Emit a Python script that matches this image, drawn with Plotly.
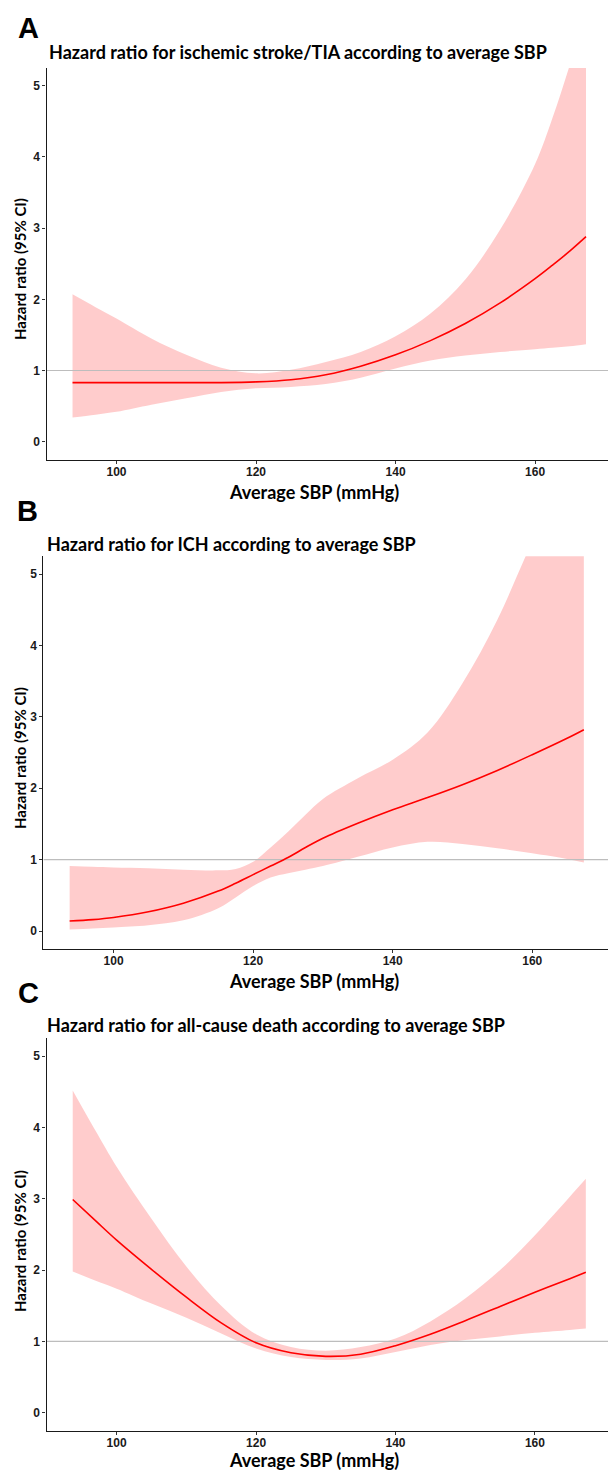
import plotly.graph_objects as go

W, H = 608, 1471

# ---------------- data ----------------
PANEL_LETTERS = ["A", "B", "C"]
PANEL_TITLES = [
    "Hazard ratio for ischemic stroke/TIA according to average SBP",
    "Hazard ratio for ICH according to average SBP",
    "Hazard ratio for all-cause death according to average SBP",
]
X_TITLE = "Average SBP (mmHg)"
Y_TITLE = "Hazard ratio (95% CI)"
X_TICKS = [100, 120, 140, 160]
Y_TICKS = [0, 1, 2, 3, 4, 5]
REF_HR = 1

# Panel A: ischemic stroke/TIA
sbp_a = [93.7, 97, 100, 105, 110, 115, 120, 125, 130, 135, 140, 145, 150, 155, 160, 162.5, 165, 167.3]
hr_a = [0.83, 0.83, 0.83, 0.83, 0.83, 0.83, 0.84, 0.87, 0.94, 1.06, 1.22, 1.42, 1.66, 1.95, 2.29, 2.48, 2.68, 2.88]
lo_a = [0.34, 0.38, 0.42, 0.52, 0.61, 0.70, 0.75, 0.77, 0.81, 0.90, 1.03, 1.14, 1.21, 1.26, 1.30, 1.32, 1.34, 1.37]
hi_a = [2.07, 1.89, 1.73, 1.45, 1.22, 1.04, 0.96, 1.01, 1.12, 1.26, 1.48, 1.80, 2.28, 2.98, 3.90, 4.55, 5.30, 6.05]

# Panel B: ICH
sbp_b = [93.7, 97, 100, 105, 110, 115, 117.5, 120, 122.5, 125, 127.5, 130, 135, 140, 145, 150, 155, 160, 165, 167.4]
hr_b = [0.14, 0.16, 0.19, 0.27, 0.39, 0.56, 0.67, 0.79, 0.91, 1.03, 1.17, 1.30, 1.51, 1.70, 1.87, 2.05, 2.25, 2.47, 2.70, 2.82]
lo_b = [0.02, 0.035, 0.05, 0.08, 0.15, 0.32, 0.47, 0.63, 0.75, 0.81, 0.86, 0.91, 1.04, 1.17, 1.25, 1.22, 1.16, 1.09, 1.01, 0.96]
hi_b = [0.91, 0.90, 0.89, 0.88, 0.86, 0.85, 0.87, 0.97, 1.17, 1.39, 1.63, 1.85, 2.14, 2.40, 2.78, 3.47, 4.36, 5.45, 6.40, 6.90]

# Panel C: all-cause death
sbp_c = [93.7, 97, 100, 105, 110, 115, 120, 125, 130, 135, 140, 145, 150, 155, 160, 165, 167.3]
hr_c = [2.99, 2.69, 2.42, 2.01, 1.62, 1.26, 0.98, 0.84, 0.79, 0.82, 0.94, 1.10, 1.29, 1.49, 1.69, 1.88, 1.97]
lo_c = [1.98, 1.85, 1.74, 1.53, 1.33, 1.11, 0.90, 0.78, 0.74, 0.76, 0.85, 0.95, 1.02, 1.07, 1.12, 1.16, 1.18]
hi_c = [4.52, 3.95, 3.45, 2.72, 2.05, 1.50, 1.10, 0.92, 0.87, 0.92, 1.04, 1.28, 1.60, 2.00, 2.49, 3.03, 3.28]

SERIES = [(sbp_a, hr_a, lo_a, hi_a), (sbp_b, hr_b, lo_b, hi_b), (sbp_c, hr_c, lo_c, hi_c)]

# ---------------- layout geometry (pixels) ----------------
# plot area: left, right, top, bottom
AREAS = [(46.5, 608, 68.0, 459.5), (43.4, 608, 556.2, 948.9), (46.5, 608, 1038.4, 1430.5)]
X_RANGES = [[89.97, 170.45], [89.94, 170.86], [89.94, 170.48]]
Y_RANGE = [-0.25, 5.25]

LETTER_POS = [(16.0, 28.5), (15.0, 511), (15.5, 993)]
TITLE_POS = [(46.5, 52.0), (45.0, 543.5), (45.0, 1025.0)]
XTITLE_POS = [(314, 492), (314, 981), (314, 1460)]
YTITLE_POS = [(20, 269), (20, 758), (20, 1241)]

RED = "#FF0000"
BAND = "rgba(255,0,0,0.2)"
TITLE_FONT = "Lato, 'Open Sans', sans-serif"
TICK_FONT = "'Liberation Sans', Arial, sans-serif"
SMOOTH = 1.0


def px(x):
    return x / W


def py(y):
    return 1 - y / H


fig = go.Figure()
layout = dict(
    width=W, height=H,
    margin=dict(l=0, r=0, t=0, b=0),
    paper_bgcolor="white", plot_bgcolor="white",
    showlegend=False,
)
annotations = []

for i, (sbp, hr, lo, hi) in enumerate(SERIES):
    n = "" if i == 0 else str(i + 1)
    xa, ya = "x" + n, "y" + n
    left, right, top, bottom = AREAS[i]

    fig.add_trace(go.Scatter(x=sbp, y=lo, mode="lines", line=dict(width=0, shape="spline", smoothing=SMOOTH),
                             xaxis=xa, yaxis=ya, hoverinfo="skip"))
    fig.add_trace(go.Scatter(x=sbp, y=hi, mode="lines", line=dict(width=0, shape="spline", smoothing=SMOOTH),
                             fill="tonexty", fillcolor=BAND, xaxis=xa, yaxis=ya, hoverinfo="skip"))
    fig.add_trace(go.Scatter(x=X_RANGES[i], y=[REF_HR, REF_HR], mode="lines",
                             line=dict(color="#BDBDBD", width=1.1), xaxis=xa, yaxis=ya, hoverinfo="skip"))
    fig.add_trace(go.Scatter(x=sbp, y=hr, mode="lines",
                             line=dict(color=RED, width=1.6, shape="spline", smoothing=SMOOTH),
                             xaxis=xa, yaxis=ya))

    axis_common = dict(showgrid=False, zeroline=False, showline=True, linecolor="#1a1a1a", linewidth=1.2,
                       ticks="outside", ticklen=3, tickwidth=1, tickcolor="#333333",
                       tickfont=dict(family=TICK_FONT, size=12, color="#1a1a1a", weight="bold"),
                       fixedrange=True)
    layout["xaxis" + n] = dict(axis_common, domain=[px(left), px(right)], range=X_RANGES[i],
                               tickvals=X_TICKS, anchor=ya, ticklabelstandoff=-2)
    layout["yaxis" + n] = dict(axis_common, domain=[py(bottom), py(top)], range=Y_RANGE,
                               tickvals=Y_TICKS, anchor=xa)

    lx, ly = LETTER_POS[i]
    annotations.append(dict(text=PANEL_LETTERS[i], x=px(lx), y=py(ly), xref="paper", yref="paper",
                            xanchor="left", yanchor="middle", showarrow=False,
                            font=dict(family=TICK_FONT, size=29, color="black", weight="bold")))
    tx, ty = TITLE_POS[i]
    annotations.append(dict(text=PANEL_TITLES[i], x=px(tx), y=py(ty), xref="paper", yref="paper",
                            xanchor="left", yanchor="middle", showarrow=False,
                            font=dict(family=TITLE_FONT, size=18, color="black", weight="bold")))
    ax_, ay_ = XTITLE_POS[i]
    annotations.append(dict(text=X_TITLE, x=px(ax_), y=py(ay_), xref="paper", yref="paper",
                            xanchor="center", yanchor="middle", showarrow=False,
                            font=dict(family=TITLE_FONT, size=18, color="black", weight="bold")))
    yx, yy = YTITLE_POS[i]
    annotations.append(dict(text=Y_TITLE, x=px(yx), y=py(yy), xref="paper", yref="paper",
                            xanchor="center", yanchor="middle", textangle=-90, showarrow=False,
                            font=dict(family=TITLE_FONT, size=15, color="black", weight="bold")))

layout["annotations"] = annotations
fig.update_layout(**layout)
fig.write_html("out.html", config={"displayModeBar": False})
